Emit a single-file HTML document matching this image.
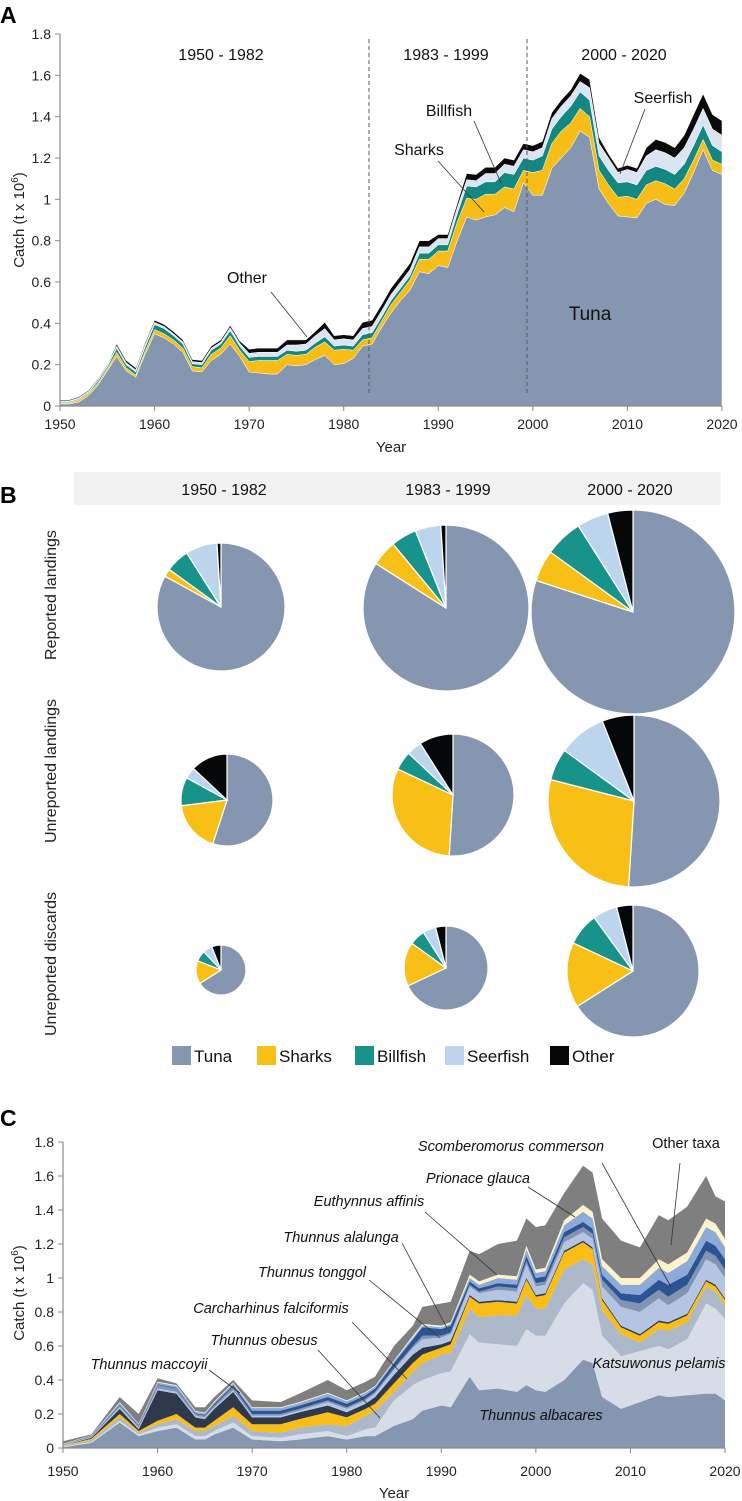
<!DOCTYPE html>
<html><head><meta charset="utf-8">
<style>
html,body{margin:0;padding:0;background:#fff;}
svg{display:block;font-family:"Liberation Sans",sans-serif;}
.tk{font-size:14px;fill:#222;}
.ann{font-size:16px;fill:#111;}
.it{font-size:14.5px;fill:#111;font-style:italic;}
</style></head>
<body>
<svg id="fig" width="742" height="1501" viewBox="0 0 742 1501" xmlns="http://www.w3.org/2000/svg">
<g id="panelA"></g>
<g id="panelB"></g>
<g id="panelC"></g>
</svg>
<script>
// ---------- Panel A data ----------
const yearsA = [];
for (let y = 1950; y <= 2020; y++) yearsA.push(y);
const tunaA = [.01,.01,.02,.05,.10,.17,.24,.17,.14,.25,
.35,.33,.30,.26,.17,.165,.22,.25,.30,.24,
.165,.16,.155,.155,.20,.195,.20,.225,.245,.20,
.205,.23,.29,.30,.38,.45,.51,.56,.65,.64,
.68,.67,.80,.915,.90,.915,.925,.96,.94,1.08,
1.02,1.02,1.15,1.20,1.25,1.33,1.30,1.05,.98,.92,
.915,.91,.98,1.00,.975,.97,1.03,1.13,1.24,1.14,1.12];
const sharksA = [.005,.005,.01,.01,.01,.01,.02,.015,.01,.015,
.02,.02,.02,.02,.02,.02,.03,.03,.04,.03,
.05,.06,.065,.065,.05,.05,.05,.06,.065,.07,
.07,.04,.03,.03,.03,.04,.04,.05,.06,.07,
.07,.08,.09,.09,.10,.11,.10,.10,.11,.06,
.11,.12,.12,.13,.12,.11,.10,.09,.09,.09,
.10,.09,.09,.09,.10,.08,.07,.06,.05,.05,.05];
const billfishA = [.005,.005,.005,.005,.01,.01,.02,.015,.015,.02,
.025,.025,.02,.02,.015,.015,.02,.02,.025,.02,
.02,.02,.02,.02,.02,.02,.02,.02,.025,.02,
.02,.02,.025,.025,.02,.02,.02,.02,.03,.03,
.03,.03,.04,.06,.06,.06,.06,.07,.07,.06,
.06,.07,.07,.07,.08,.08,.08,.07,.07,.07,
.07,.07,.07,.07,.07,.07,.07,.07,.07,.07,.06];
const seerfishA = [.005,.005,.005,.005,.005,.005,.01,.01,.01,.01,
.01,.01,.01,.01,.01,.01,.01,.01,.015,.015,
.02,.02,.02,.02,.025,.03,.03,.035,.04,.03,
.03,.03,.03,.03,.03,.03,.03,.03,.03,.03,
.03,.03,.03,.03,.03,.04,.04,.04,.04,.04,
.04,.04,.05,.05,.05,.05,.06,.06,.06,.05,
.06,.06,.07,.08,.08,.08,.08,.08,.08,.08,.08];
const otherA = [.005,.005,.005,.005,.005,.005,.01,.01,.01,.01,
.01,.01,.01,.01,.01,.01,.01,.01,.01,.01,
.02,.02,.02,.02,.025,.025,.02,.02,.03,.02,
.02,.02,.03,.03,.03,.03,.03,.03,.03,.03,
.02,.02,.02,.03,.03,.03,.03,.03,.03,.03,
.03,.03,.03,.03,.03,.04,.04,.03,.02,.02,
.02,.02,.04,.05,.05,.05,.06,.07,.07,.07,.07];
const yTicks = [0,0.2,0.4,0.6,0.8,1,1.2,1.4,1.6,1.8];
const yTickLabels = ["0","0.2","0.4","0.6","0.8","1","1.2","1.4","1.6","1.8"];
const xTicks = [1950,1960,1970,1980,1990,2000,2010,2020];

// ---------- Panel B data ----------
const periods = ["1950 - 1982","1983 - 1999","2000 - 2020"];
const rowsB = ["Reported landings","Unreported landings","Unreported discards"];
const groupsB = ["Tuna","Sharks","Billfish","Seerfish","Other"];
const pieReported1 = [83,2,6,8,1];
const pieReported2 = [84,5,5,5,1];
const pieReported3 = [80,5,6,5,4];
const pieUnrepLand1 = [55,18,10,4,13];
const pieUnrepLand2 = [51,31,5,4,9];
const pieUnrepLand3 = [51,28,6,9,6];
const pieDiscard1 = [66,15,7,6,6];
const pieDiscard2 = [68,17,6,5,4];
const pieDiscard3 = [66,16,8,6,4];
const pieRadii = [64,83,102,46,61,86,25,42,66];

// ---------- Panel C data ----------
const yearsC = [1950,1953,1956,1958,1960,1962,1964,1965,1966,1968,1970,1973,1975,1978,1980,1982,1983,1985,1987,1988,1990,1991,1993,1994,1996,1998,1999,2000,2001,2003,2005,2006,2007,2009,2011,2013,2014,2016,2018,2019,2020];
const totalC = [.04,.08,.30,.20,.41,.38,.24,.24,.30,.40,.28,.27,.32,.40,.34,.39,.42,.60,.72,.83,.85,.86,1.16,1.14,1.20,1.22,1.35,1.30,1.31,1.50,1.66,1.62,1.35,1.22,1.18,1.37,1.34,1.42,1.60,1.48,1.45];
const albacaresC = [.005,.03,.15,.07,.10,.12,.05,.05,.08,.12,.05,.04,.05,.07,.05,.07,.07,.13,.17,.22,.25,.24,.42,.34,.35,.33,.37,.34,.33,.40,.52,.50,.30,.23,.27,.31,.30,.31,.32,.32,.28];
const pelamisC = [.003,.005,.01,.01,.02,.02,.02,.02,.02,.03,.02,.02,.03,.03,.02,.04,.05,.15,.20,.18,.19,.21,.25,.28,.26,.27,.33,.32,.33,.45,.45,.43,.36,.31,.30,.29,.28,.33,.53,.50,.48];
const obesusC = [.003,.01,.02,.01,.02,.03,.03,.03,.03,.04,.03,.03,.04,.04,.06,.08,.10,.05,.08,.10,.11,.11,.15,.15,.17,.18,.20,.16,.16,.20,.14,.15,.15,.13,.05,.10,.11,.10,.10,.10,.08];
const falciformisC = [.003,.01,.02,.01,.02,.03,.02,.02,.03,.05,.04,.05,.05,.07,.05,.04,.04,.05,.05,.05,.04,.05,.07,.08,.08,.07,.09,.07,.08,.10,.10,.09,.06,.04,.04,.04,.04,.04,.03,.03,.03];
const maccoyiiC = [0,.005,.03,.01,.18,.12,.06,.05,.07,.09,.04,.04,.04,.04,.03,.03,.04,.05,.05,.04,.02,.02,.01,.01,.01,.01,.01,.01,.01,.01,.01,.01,.01,.01,.01,.01,.01,.01,.01,.01,.01];
const tonggolC = [.002,.005,.01,.01,.01,.01,.01,.01,.01,.01,.01,.01,.01,.02,.02,.02,.02,.03,.04,.05,.04,.04,.05,.05,.06,.06,.08,.05,.05,.05,.05,.05,.07,.11,.13,.13,.10,.12,.12,.12,.12];
const alalungaC = [.002,.003,.01,.01,.02,.02,.01,.01,.01,.02,.01,.01,.01,.01,.01,.01,.01,.01,.01,.02,.01,.01,.01,.01,.02,.02,.02,.02,.02,.03,.03,.03,.04,.04,.05,.05,.05,.05,.05,.05,.05];
const commersonC = [.002,.003,.005,.005,.005,.005,.005,.005,.01,.01,.02,.02,.02,.02,.02,.02,.02,.03,.04,.05,.04,.04,.02,.02,.02,.02,.03,.03,.03,.03,.03,.03,.03,.04,.05,.06,.07,.06,.06,.06,.06];
const affinisC = [.002,.003,.01,.005,.01,.01,.01,.01,.01,.01,.015,.015,.015,.02,.015,.015,.01,.01,.01,.01,.01,.01,.02,.02,.03,.03,.04,.03,.03,.04,.06,.06,.05,.05,.06,.07,.07,.08,.08,.08,.07];
const glaucaC = [.002,.002,.005,.003,.005,.005,.003,.003,.005,.005,.005,.005,.005,.005,.005,.005,.005,.005,.01,.01,.01,.01,.02,.02,.02,.02,.02,.02,.02,.03,.04,.04,.04,.04,.04,.05,.05,.05,.05,.05,.05];

const NS = "http://www.w3.org/2000/svg";
function mk(parent, tag, attrs, text) {
  const e = document.createElementNS(NS, tag);
  for (const k in attrs) e.setAttribute(k, attrs[k]);
  if (text !== undefined) e.textContent = text;
  parent.appendChild(e);
  return e;
}

function drawAxes(g, x0, x1, y0, y1, yTop, title, titleY, yearY, yearLabelY, prefix) {
  const sx = v => x0 + (v - 1950) / 70 * (x1 - x0);
  const sy = v => y0 - v / yTop * (y0 - y1);
  const ax = mk(g, "g", {});
  
  
  mk(ax, "line", {x1:x0, y1:y1, x2:x0, y2:y0, stroke:"#8a8a8a", "stroke-width":1.2});
  mk(ax, "line", {x1:x0, y1:y0, x2:x1, y2:y0, stroke:"#8a8a8a", "stroke-width":1.2});
  yTicks.forEach((t, i) => {
    mk(ax, "line", {x1:x0-5, y1:sy(t), x2:x0, y2:sy(t), stroke:"#8a8a8a"});
    const lb = mk(ax, "text", {x:x0-9, y:sy(t)+5, "text-anchor":"end", class:"tk"}, yTickLabels[i]);
    
    
  });
  xTicks.forEach(t => {
    mk(ax, "line", {x1:sx(t), y1:y0, x2:sx(t), y2:y0+5, stroke:"#8a8a8a"});
    const lb = mk(ax, "text", {x:sx(t), y:yearY, "text-anchor":"middle", class:"tk"}, String(t));
    
    
  });
  const yt = mk(ax, "text", {x:0, y:0, transform:`translate(24,${titleY}) rotate(-90)`, "text-anchor":"middle", style:"font-size:15px;fill:#222"});
  yt.textContent = "Catch (t x 10";
  const sup = mk(yt, "tspan", {dy:-6, style:"font-size:10px"}, "6");
  mk(yt, "tspan", {dy:6}, ")");
  
  
  const xt = mk(ax, "text", {x:(x0+x1)/2, y:yearLabelY, "text-anchor":"middle", style:"font-size:15px;fill:#222"}, "Year");
  
  
  return {sx, sy};
}

function stack(g, years, layers, colors, names, sx, sy, strokeCol) {
  const n = years.length;
  let base = new Array(n).fill(0);
  layers.forEach((arr, li) => {
    const top = base.map((b, i) => b + arr[i]);
    let d = "";
    for (let i = 0; i < n; i++) d += (i ? "L" : "M") + sx(years[i]).toFixed(1) + "," + sy(top[i]).toFixed(1);
    for (let i = n - 1; i >= 0; i--) d += "L" + sx(years[i]).toFixed(1) + "," + sy(base[i]).toFixed(1);
    d += "Z";
    const p = mk(g, "path", {d, fill:colors[li], stroke:strokeCol, "stroke-width":0.5, "stroke-linejoin":"round"});
    
    
    base = top;
  });
}

function label(g, x, y, txt, cls, name, anchor) {
  const t = mk(g, "text", {x, y, class:cls, "text-anchor":anchor || "middle"}, txt);
  
  
  return t;
}
function leader(g, x1, y1, x2, y2, name) {
  const l = mk(g, "line", {x1, y1, x2, y2, stroke:"#333", "stroke-width":0.8});
  
  
}

// ---------- Panel A ----------
(function(){
  const g = document.getElementById("panelA");
  const pl = mk(g, "text", {x:0, y:23, style:"font-size:23px;font-weight:bold;fill:#000"}, "A");
  
  
  const plot = mk(g, "g", {});
  
  
  const sx = v => 60 + (v - 1950) / 70 * (722 - 60);
  const sy = v => 406 - v / 1.8 * (406 - 34);
  stack(plot, yearsA, [tunaA, sharksA, billfishA, seerfishA, otherA],
    ["#8597b0","#f6bd16","#138781","#dbe4f1","#0a0a0a"],
    ["tuna","sharks","billfish","seerfish","other"], sx, sy, "#ffffff");
  drawAxes(g, 60, 722, 406, 34, 1.8, "", 220, 429, 452, "panel-a");
  [369, 527].forEach((x, i) => {
    const l = mk(g, "line", {x1:x, y1:39, x2:x, y2:396, stroke:"#555", "stroke-width":1, "stroke-dasharray":"4,3"});
    
    
  });
  label(g, 221, 60, "1950 - 1982", "ann", "period-label-1");
  label(g, 446, 60, "1983 - 1999", "ann", "period-label-2");
  label(g, 624, 60, "2000 - 2020", "ann", "period-label-3");
  label(g, 247, 283, "Other", "ann", "label-other");
  leader(g, 271, 292, 307, 337, "leader-other");
  label(g, 419, 155, "Sharks", "ann", "label-sharks");
  leader(g, 438, 161, 484, 212, "leader-sharks");
  label(g, 449, 116, "Billfish", "ann", "label-billfish");
  leader(g, 474, 121, 501, 183, "leader-billfish");
  label(g, 663, 103, "Seerfish", "ann", "label-seerfish");
  leader(g, 645, 109, 620, 174, "leader-seerfish");
  const tl = label(g, 590, 320, "Tuna", "ann", "label-tuna");
  tl.setAttribute("style", "font-size:19px");
})();

// ---------- Panel B ----------
(function(){
  const g = document.getElementById("panelB");
  const pl = mk(g, "text", {x:0, y:503, style:"font-size:23px;font-weight:bold;fill:#000"}, "B");
  
  
  const hb = mk(g, "rect", {x:74, y:472, width:647, height:33, fill:"#f2f2f2"});
  
  
  const colX = [224, 448, 630];
  periods.forEach((p, i) => label(g, colX[i], 495, p, "ann", "period-header-" + (i+1)));
  const rowY = [595, 771, 964];
  rowsB.forEach((r, i) => {
    const t = mk(g, "text", {x:0, y:0, transform:`translate(56,${rowY[i]}) rotate(-90)`, "text-anchor":"middle", style:"font-size:16px;fill:#222"}, r);
    
    
  });
  const pies = [pieReported1,pieReported2,pieReported3,pieUnrepLand1,pieUnrepLand2,pieUnrepLand3,pieDiscard1,pieDiscard2,pieDiscard3];
  const centers = [[221,607],[446,608],[633,612],[227,800],[453,795],[634,801],[221,970],[446,968],[633,971]];
  const cols = ["#8597b0","#f8bf17","#17938c","#bdd5ec","#060708"];
  pies.forEach((vals, pi) => {
    const pg = mk(g, "g", {});
    
    
    const [cx, cy] = centers[pi];
    const r = pieRadii[pi];
    const tot = vals.reduce((a,b)=>a+b,0);
    let a0 = 0;
    vals.forEach((v, si) => {
      const a1 = a0 + v / tot * Math.PI * 2;
      const x0 = cx + r*Math.sin(a0), y0 = cy - r*Math.cos(a0);
      const x1 = cx + r*Math.sin(a1), y1 = cy - r*Math.cos(a1);
      const large = (a1 - a0) > Math.PI ? 1 : 0;
      const p = mk(pg, "path", {d:`M${cx},${cy}L${x0.toFixed(2)},${y0.toFixed(2)}A${r},${r} 0 ${large} 1 ${x1.toFixed(2)},${y1.toFixed(2)}Z`, fill:cols[si], stroke:"#fff", "stroke-width":1.2});
      
      
      a0 = a1;
    });
  });
  const lx = [172, 257, 355, 445, 550];
  const lg = mk(g, "g", {});
  
  
  groupsB.forEach((nm, i) => {
    const s = mk(lg, "rect", {x:lx[i], y:1046, width:19, height:19, fill:cols[i]});
    
    
    const t = mk(lg, "text", {x:lx[i]+22, y:1062, style:"font-size:17px;fill:#111"}, nm);
    
    
  });
})();

// ---------- Panel C ----------
(function(){
  const g = document.getElementById("panelC");
  const pl = mk(g, "text", {x:0, y:1126, style:"font-size:23px;font-weight:bold;fill:#000"}, "C");
  
  
  const plot = mk(g, "g", {});
  
  
  const sx = v => 63 + (v - 1950) / 70 * (725 - 63);
  const sy = v => 1448 - v / 1.8 * (1448 - 1142);
  const layers = [albacaresC, pelamisC, obesusC, falciformisC, maccoyiiC, tonggolC, alalungaC, commersonC, affinisC, glaucaC];
  const otherC = totalC.map((t, i) => Math.max(0.005, t - layers.reduce((s, a) => s + a[i], 0)));
  layers.push(otherC);
  stack(plot, yearsC, layers,
    ["#8496b0","#d6dde7","#adb9c9","#f8bd17","#2e394c","#b4c5e4","#8393b3","#2b5592","#8eaad8","#fdf3cb","#7f7f7f"],
    ["thunnus-albacares","katsuwonus-pelamis","thunnus-obesus","carcharhinus-falciformis","thunnus-maccoyii","thunnus-tonggol","thunnus-alalunga","scomberomorus-commerson","euthynnus-affinis","prionace-glauca","other-taxa"],
    sx, sy, "none");
  drawAxes(g, 63, 725, 1448, 1142, 1.8, "", 1293, 1476, 1498, "panel-c");
  label(g, 511, 1151, "Scomberomorus commerson", "it", "label-scomberomorus");
  leader(g, 602, 1163, 671, 1287, "leader-scomberomorus");
  const ot = label(g, 686, 1148, "Other taxa", "it", "label-other-taxa");
  ot.setAttribute("style", "font-style:normal");
  leader(g, 680, 1163, 671, 1245, "leader-other-taxa");
  label(g, 478, 1183, "Prionace glauca", "it", "label-prionace");
  leader(g, 528, 1187, 575, 1217, "leader-prionace");
  label(g, 369, 1206, "Euthynnus affinis", "it", "label-euthynnus");
  leader(g, 425, 1212, 497, 1275, "leader-euthynnus");
  label(g, 341, 1242, "Thunnus alalunga", "it", "label-alalunga");
  leader(g, 402, 1243, 447, 1328, "leader-alalunga");
  label(g, 312, 1277, "Thunnus tonggol", "it", "label-tonggol");
  leader(g, 369, 1280, 440, 1338, "leader-tonggol");
  label(g, 271, 1313, "Carcharhinus falciformis", "it", "label-falciformis");
  leader(g, 352, 1322, 407, 1379, "leader-falciformis");
  label(g, 264, 1345, "Thunnus obesus", "it", "label-obesus");
  leader(g, 318, 1350, 380, 1418, "leader-obesus");
  label(g, 149, 1369, "Thunnus maccoyii", "it", "label-maccoyii");
  leader(g, 209, 1370, 240, 1393, "leader-maccoyii");
  label(g, 659, 1368, "Katsuwonus pelamis", "it", "label-pelamis");
  label(g, 541, 1420, "Thunnus albacares", "it", "label-albacares");
})();
</script>
</body></html>
